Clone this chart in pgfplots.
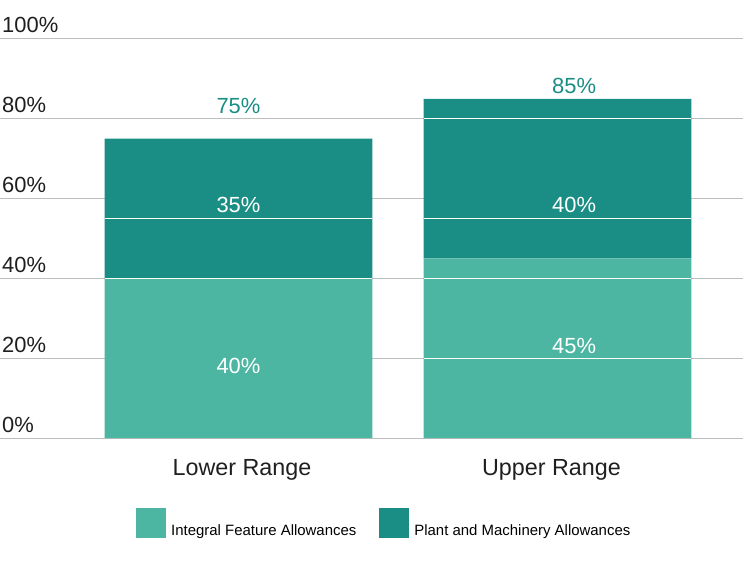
\documentclass[border=0pt]{standalone}
\usepackage{pgfplots}
\pgfplotsset{compat=1.18}
\usepackage{fontspec}
\setmainfont{Liberation Sans}
\definecolor{lightteal}{HTML}{4DB6A2}
\definecolor{darkteal}{HTML}{1A8E84}
\definecolor{gridgray}{HTML}{BDBDBD}
\newcommand{\bigfont}{\fontsize{22}{26}\selectfont}

\begin{document}
\begin{tikzpicture}
\begin{axis}[
  at={(0,0)}, anchor=south west,
  width=743bp, height=399bp, scale only axis,
  ybar stacked, bar width=0.84,
  xmin=-0.7476, xmax=1.5815, ymin=0, ymax=100,
  xtick={0.011,0.981}, xticklabels={Lower Range, Upper Range},
  ytick={0,20,...,100}, yticklabels={0\%,20\%,40\%,60\%,80\%,100\%},
  axis line style={draw=none},
  major tick length=0pt,
  ymajorgrids, grid style={gridgray, line width=1bp},
  tick label style={font=\bigfont, text=black!88},
  yticklabel style={anchor=base west, inner sep=0pt, xshift=2bp, yshift=6bp},
  xticklabel style={anchor=base, inner sep=0pt, yshift=-37bp, font=\fontsize{23.4}{27}\selectfont},
  legend columns=2,
  legend style={at={(0.1830,-0.1754)}, anchor=north west, draw=none, fill=none,
    inner sep=0pt, font=\fontsize{15}{18}\selectfont,
    /tikz/every odd column/.append style={column sep=3bp},
    /tikz/every even column/.append style={column sep=21bp}},
  legend image code/.code={\fill[#1] (0bp,-7bp) rectangle (30bp,23bp);},
  clip=false,
]
\addplot[fill=lightteal, draw=none] coordinates {(0,40) (1,45)};
\addplot[fill=darkteal, draw=none] coordinates {(0,35) (1,40)};
\legend{Integral Feature Allowances, Plant and Machinery Allowances}

% anchor points for the overlay drawn after the axis
\coordinate (l55a) at (axis cs:-0.42,55); \coordinate (l55b) at (axis cs:0.42,55);
\coordinate (l40a) at (axis cs:-0.42,40); \coordinate (l40b) at (axis cs:0.42,40);
\coordinate (u80a) at (axis cs:0.58,80);  \coordinate (u80b) at (axis cs:1.42,80);
\coordinate (u55a) at (axis cs:0.58,55);  \coordinate (u55b) at (axis cs:1.42,55);
\coordinate (u40a) at (axis cs:0.58,40);  \coordinate (u40b) at (axis cs:1.42,40);
\coordinate (u20a) at (axis cs:0.58,20);  \coordinate (u20b) at (axis cs:1.42,20);
\coordinate (t1) at (axis cs:0,18.0);
\coordinate (t2) at (axis cs:0,58.4);
\coordinate (t3) at (axis cs:1.052,23.1);
\coordinate (t4) at (axis cs:1.052,58.4);
\coordinate (t5) at (axis cs:0,83.2);
\coordinate (t6) at (axis cs:1.052,88.2);
\end{axis}

% white lines across the bars
\foreach \p in {l55,l40,u80,u55,u40,u20}
  \draw[white, line width=1bp] (\p a) -- (\p b);

% value labels
\node[font=\bigfont, text=white] at (t1) {40\%};
\node[font=\bigfont, text=white] at (t2) {35\%};
\node[font=\bigfont, text=white] at (t3) {45\%};
\node[font=\bigfont, text=white] at (t4) {40\%};
\node[font=\bigfont, text=darkteal] at (t5) {75\%};
\node[font=\bigfont, text=darkteal] at (t6) {85\%};

\pgfresetboundingbox
\path[use as bounding box] (0,-124bp) rectangle (748bp,438bp);
\end{tikzpicture}
\end{document}
